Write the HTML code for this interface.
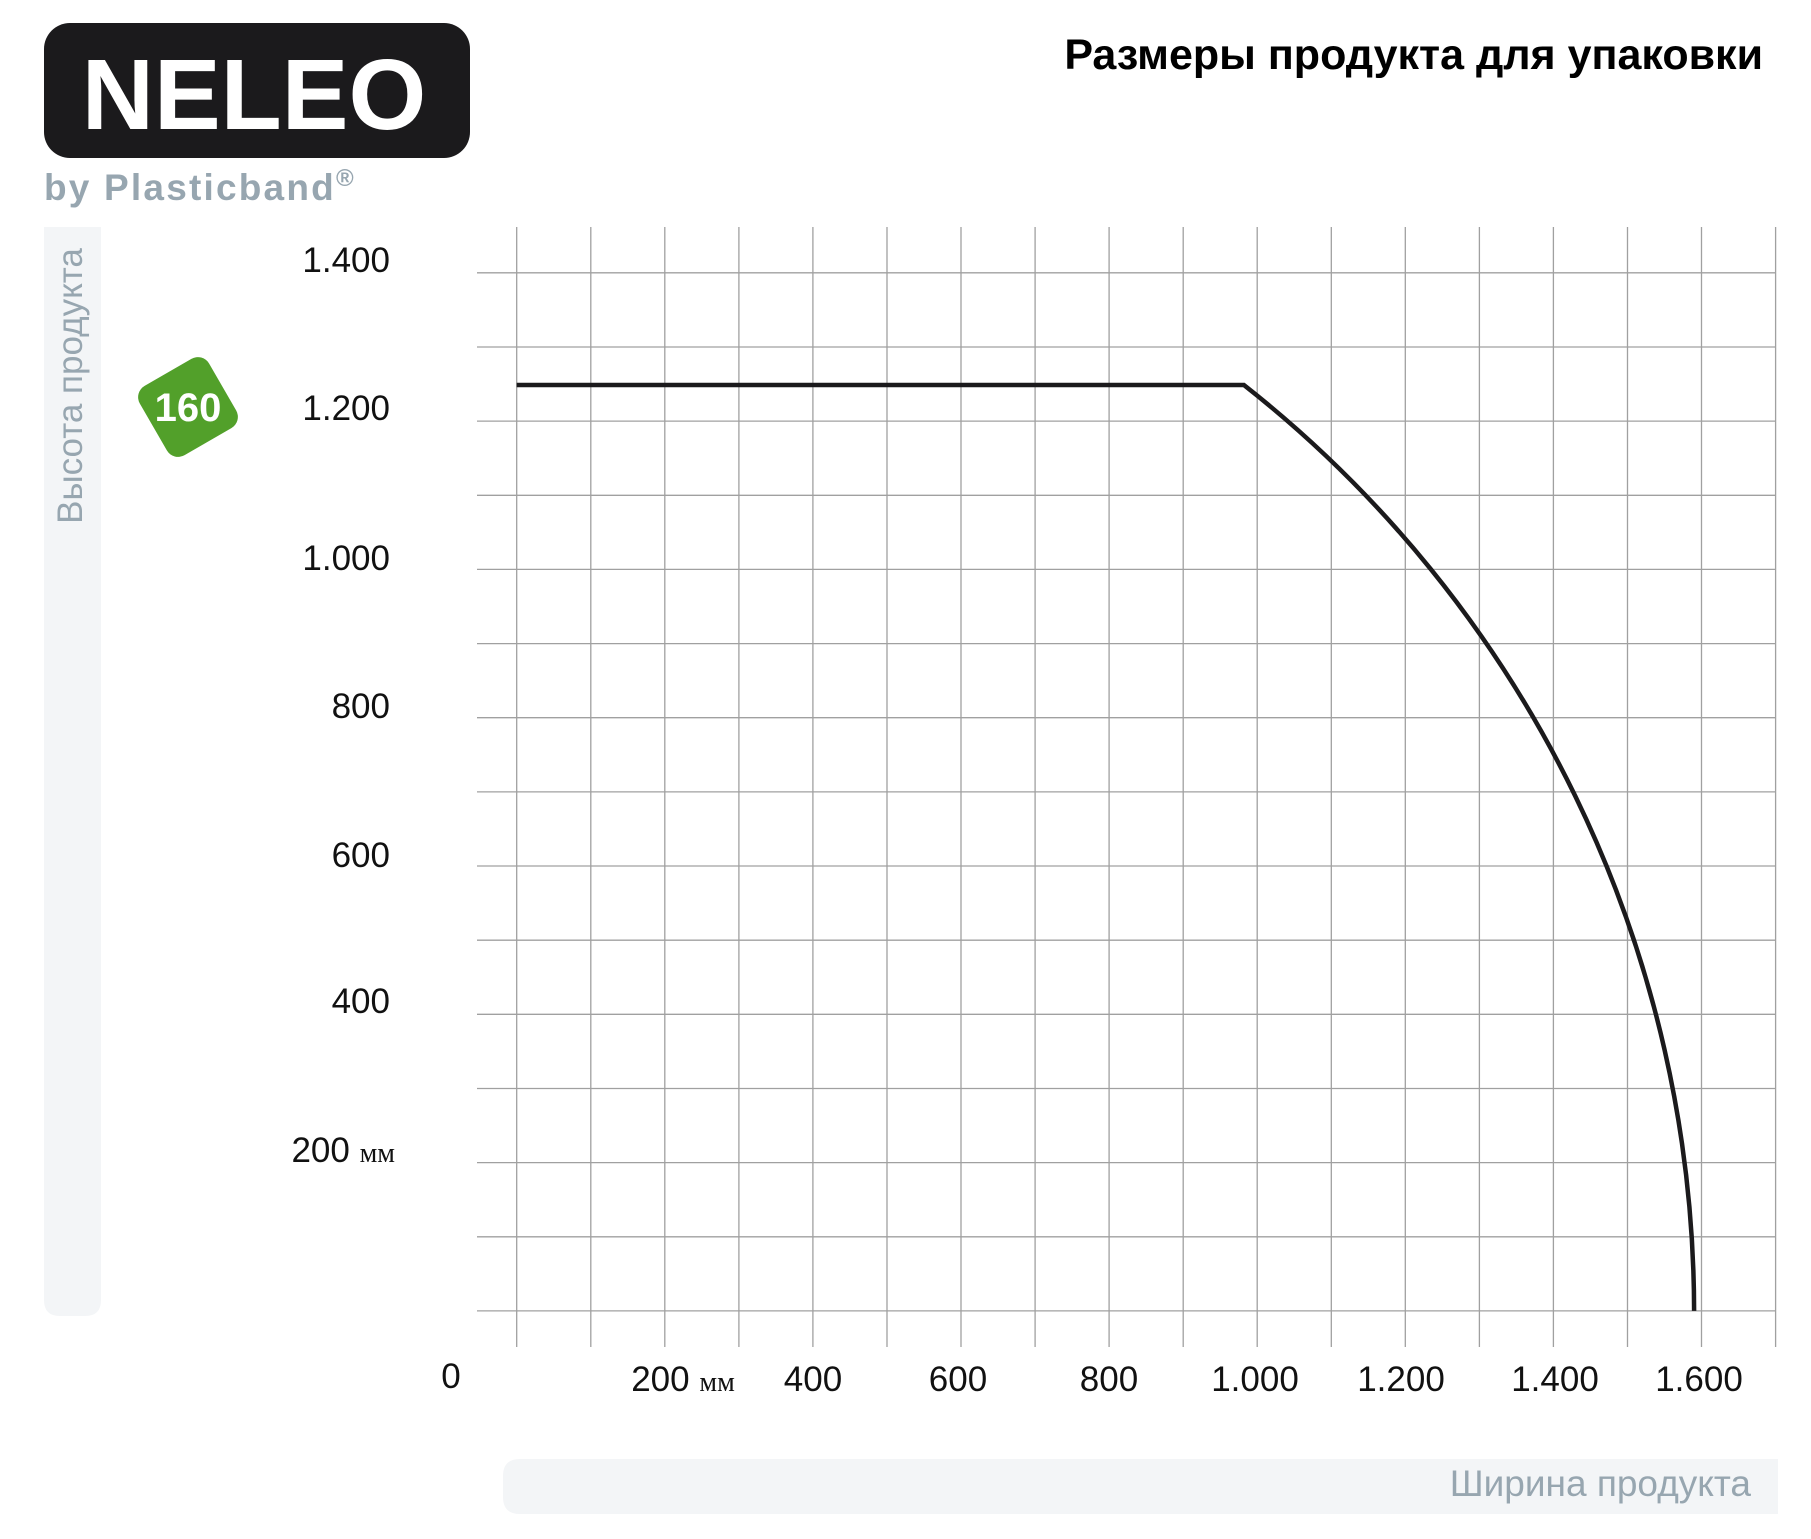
<!DOCTYPE html>
<html><head><meta charset="utf-8"><style>
html,body{margin:0;padding:0;background:#fff;}
svg{display:block;}
text{font-family:"Liberation Sans",sans-serif;}
</style></head><body>
<svg width="1811" height="1539" viewBox="0 0 1811 1539" xmlns="http://www.w3.org/2000/svg">
<rect x="44" y="23" width="426" height="135" rx="26" fill="#1b1a1c"/>
<text x="254" y="129" font-size="100" font-weight="bold" fill="#fff" text-anchor="middle">NELEO</text>
<text x="44" y="200" font-size="37" font-weight="bold" fill="#97a6b0" letter-spacing="2.2">by Plasticband<tspan font-size="24" dy="-14">®</tspan></text>
<text x="1763" y="69" font-size="43" font-weight="bold" fill="#000" text-anchor="end">Размеры продукта для упаковки</text>
<path d="M44 227 H101 V1300 Q101 1316 85 1316 H60 Q44 1316 44 1300 Z" fill="#f3f5f7"/>
<text transform="translate(82,386) rotate(-90)" font-size="35" fill="#97a6b0" text-anchor="middle">Высота продукта</text>
<path d="M520 1459 H1778 V1514 H520 Q503 1514 503 1497 V1476 Q503 1459 520 1459 Z" fill="#f3f5f7"/>
<text x="1751" y="1496" font-size="37" fill="#97a6b0" text-anchor="end">Ширина продукта</text>
<g transform="translate(188,407) rotate(-30)">
<rect x="-40" y="-40" width="80" height="80" rx="13" fill="#52a02a"/>
</g>
<text x="188" y="421" font-size="40" font-weight="bold" fill="#fff" text-anchor="middle">160</text>
<g stroke="#a0a0a0" stroke-width="1.3">
<line x1="477" y1="272.8" x2="1776" y2="272.8"/><line x1="477" y1="347" x2="1776" y2="347"/><line x1="477" y1="421.1" x2="1776" y2="421.1"/><line x1="477" y1="495.3" x2="1776" y2="495.3"/><line x1="477" y1="569.4" x2="1776" y2="569.4"/><line x1="477" y1="643.6" x2="1776" y2="643.6"/><line x1="477" y1="717.7" x2="1776" y2="717.7"/><line x1="477" y1="791.9" x2="1776" y2="791.9"/><line x1="477" y1="866" x2="1776" y2="866"/><line x1="477" y1="940.2" x2="1776" y2="940.2"/><line x1="477" y1="1014.3" x2="1776" y2="1014.3"/><line x1="477" y1="1088.5" x2="1776" y2="1088.5"/><line x1="477" y1="1162.6" x2="1776" y2="1162.6"/><line x1="477" y1="1236.8" x2="1776" y2="1236.8"/><line x1="477" y1="1310.9" x2="1776" y2="1310.9"/>
<line x1="516.7" y1="227" x2="516.7" y2="1347"/><line x1="590.8" y1="227" x2="590.8" y2="1347"/><line x1="664.8" y1="227" x2="664.8" y2="1347"/><line x1="738.9" y1="227" x2="738.9" y2="1347"/><line x1="812.9" y1="227" x2="812.9" y2="1347"/><line x1="887" y1="227" x2="887" y2="1347"/><line x1="961" y1="227" x2="961" y2="1347"/><line x1="1035.1" y1="227" x2="1035.1" y2="1347"/><line x1="1109.1" y1="227" x2="1109.1" y2="1347"/><line x1="1183.2" y1="227" x2="1183.2" y2="1347"/><line x1="1257.2" y1="227" x2="1257.2" y2="1347"/><line x1="1331.3" y1="227" x2="1331.3" y2="1347"/><line x1="1405.3" y1="227" x2="1405.3" y2="1347"/><line x1="1479.4" y1="227" x2="1479.4" y2="1347"/><line x1="1553.4" y1="227" x2="1553.4" y2="1347"/><line x1="1627.5" y1="227" x2="1627.5" y2="1347"/><line x1="1701.5" y1="227" x2="1701.5" y2="1347"/><line x1="1775.6" y1="227" x2="1775.6" y2="1347"/>
</g>
<path d="M516.7 385 H1243.9 A1177.4 1179 0 0 1 1694.1 1310.9" fill="none" stroke="#1b1a1c" stroke-width="4.5"/>
<g font-size="35" fill="#111" text-anchor="end">
<text x="390" y="272">1.400</text><text x="390" y="420">1.200</text><text x="390" y="570">1.000</text><text x="390" y="718">800</text><text x="390" y="867">600</text><text x="390" y="1013">400</text>
<text x="395" y="1162">200 <tspan font-family="Liberation Serif,serif" font-size="28">мм</tspan></text>
</g>
<g font-size="35" fill="#111" text-anchor="middle">
<text x="451" y="1388">0</text>
<text x="683" y="1391">200 <tspan font-family="Liberation Serif,serif" font-size="28">мм</tspan></text>
<text x="813" y="1391">400</text><text x="958" y="1391">600</text><text x="1109" y="1391">800</text><text x="1255" y="1391">1.000</text><text x="1401" y="1391">1.200</text><text x="1555" y="1391">1.400</text><text x="1699" y="1391">1.600</text>
</g>
</svg>
</body></html>
